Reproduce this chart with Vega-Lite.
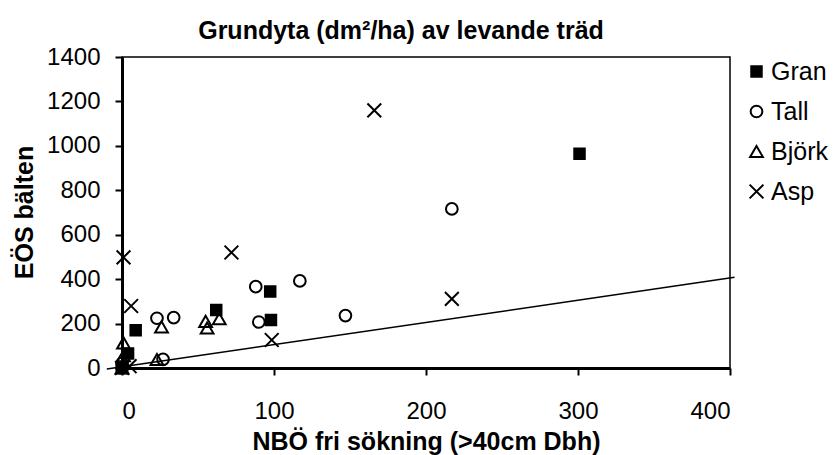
{
  "$schema": "https://vega.github.io/schema/vega-lite/v6.json",
  "autosize": "none",
  "width": 608,
  "height": 311,
  "padding": {"left": 122, "top": 57, "right": 103, "bottom": 87},
  "background": "white",
  "config": {
    "font": "Liberation Sans",
    "view": {"stroke": "black", "strokeWidth": 1.5},
    "axis": {
      "grid": false,
      "domainColor": "black",
      "domainWidth": 3,
      "tickColor": "black",
      "tickWidth": 2,
      "tickSize": 7,
      "labelColor": "black",
      "labelFont": "Liberation Sans",
      "labelFontSize": 24,
      "titleColor": "black",
      "titleFont": "Liberation Sans",
      "titleFontSize": 25,
      "titleFontWeight": "bold"
    },
    "legend": {
      "title": null,
      "orient": "none",
      "legendX": 622,
      "legendY": 2,
      "padding": 0,
      "labelFont": "Liberation Sans",
      "labelFontSize": 25,
      "labelColor": "black",
      "rowPadding": 14,
      "symbolStrokeWidth": 2,
      "labelOffset": 2
    }
  },
  "title": {
    "text": "Grundyta (dm²/ha) av levande träd",
    "font": "Liberation Sans",
    "fontSize": 25,
    "fontWeight": "bold",
    "color": "black",
    "anchor": "middle",
    "frame": "group",
    "baseline": "alphabetic",
    "dx": -25,
    "dy": 36,
    "offset": 17
  },
  "datasets": {
    "points": [
      {"art": "Gran", "nbo": 0, "eos": 0},
      {"art": "Gran", "nbo": 4, "eos": 65},
      {"art": "Gran", "nbo": 9, "eos": 170},
      {"art": "Gran", "nbo": 62, "eos": 261},
      {"art": "Gran", "nbo": 97.5, "eos": 344},
      {"art": "Gran", "nbo": 98, "eos": 216},
      {"art": "Gran", "nbo": 301, "eos": 965},
      {"art": "Tall", "nbo": 0, "eos": 0},
      {"art": "Tall", "nbo": 0, "eos": 20},
      {"art": "Tall", "nbo": 23, "eos": 224},
      {"art": "Tall", "nbo": 27, "eos": 39},
      {"art": "Tall", "nbo": 34, "eos": 227},
      {"art": "Tall", "nbo": 88, "eos": 366},
      {"art": "Tall", "nbo": 90, "eos": 207},
      {"art": "Tall", "nbo": 117, "eos": 392},
      {"art": "Tall", "nbo": 147, "eos": 236},
      {"art": "Tall", "nbo": 217, "eos": 716},
      {"art": "Björk", "nbo": 0, "eos": 0},
      {"art": "Björk", "nbo": 1, "eos": 55},
      {"art": "Björk", "nbo": 1, "eos": 113},
      {"art": "Björk", "nbo": 23, "eos": 38},
      {"art": "Björk", "nbo": 26, "eos": 185},
      {"art": "Björk", "nbo": 55, "eos": 210},
      {"art": "Björk", "nbo": 56, "eos": 180},
      {"art": "Björk", "nbo": 64, "eos": 222},
      {"art": "Asp", "nbo": 0, "eos": 0},
      {"art": "Asp", "nbo": 1, "eos": 498},
      {"art": "Asp", "nbo": 6, "eos": 279},
      {"art": "Asp", "nbo": 5, "eos": 8},
      {"art": "Asp", "nbo": 72, "eos": 520},
      {"art": "Asp", "nbo": 98.5, "eos": 126},
      {"art": "Asp", "nbo": 166, "eos": 1160},
      {"art": "Asp", "nbo": 217, "eos": 311}
    ],
    "linje": [
      {"nbo": -10, "eos": -5},
      {"nbo": 403, "eos": 408}
    ]
  },
  "layer": [
    {
      "data": {"name": "linje"},
      "mark": {"type": "line", "color": "black", "strokeWidth": 1.5},
      "encoding": {
        "x": {"field": "nbo", "type": "quantitative"},
        "y": {"field": "eos", "type": "quantitative"}
      }
    },
    {
      "data": {"name": "points"},
      "mark": {"type": "point", "strokeWidth": 2, "opacity": 1},
      "encoding": {
        "x": {
          "field": "nbo",
          "type": "quantitative",
          "scale": {"domain": [0, 400], "nice": false, "zero": false},
          "axis": {
            "values": [0, 100, 200, 300, 400],
            "format": "d",
            "labelPadding": 24,
            "title": "NBÖ fri sökning (>40cm Dbh)",
            "titleY": 73,
            "titleBaseline": "middle"
          }
        },
        "y": {
          "field": "eos",
          "type": "quantitative",
          "scale": {"domain": [0, 1400], "nice": false, "zero": false},
          "axis": {
            "values": [0, 200, 400, 600, 800, 1000, 1200, 1400],
            "format": "d",
            "labelPadding": 15,
            "title": "EÖS bälten",
            "titleX": -98,
            "titleY": 155,
            "titleAlign": "center",
            "titleBaseline": "middle",
            "titleAngle": -90
          }
        },
        "shape": {
          "field": "art",
          "type": "nominal",
          "scale": {
            "domain": ["Gran", "Tall", "Björk", "Asp"],
            "range": ["square", "circle", "triangle-up", "M-1,-1L1,1M-1,1L1,-1"]
          },
          "legend": {"title": null}
        },
        "stroke": {
          "field": "art",
          "type": "nominal",
          "scale": {
            "domain": ["Gran", "Tall", "Björk", "Asp"],
            "range": ["black", "black", "black", "black"]
          },
          "legend": {"title": null}
        },
        "fill": {
          "field": "art",
          "type": "nominal",
          "scale": {
            "domain": ["Gran", "Tall", "Björk", "Asp"],
            "range": ["black", "transparent", "transparent", "transparent"]
          },
          "legend": {"title": null}
        },
        "size": {
          "field": "art",
          "type": "nominal",
          "scale": {
            "domain": ["Gran", "Tall", "Björk", "Asp"],
            "range": [110, 190, 200, 215]
          },
          "legend": {"title": null}
        }
      }
    }
  ]
}
